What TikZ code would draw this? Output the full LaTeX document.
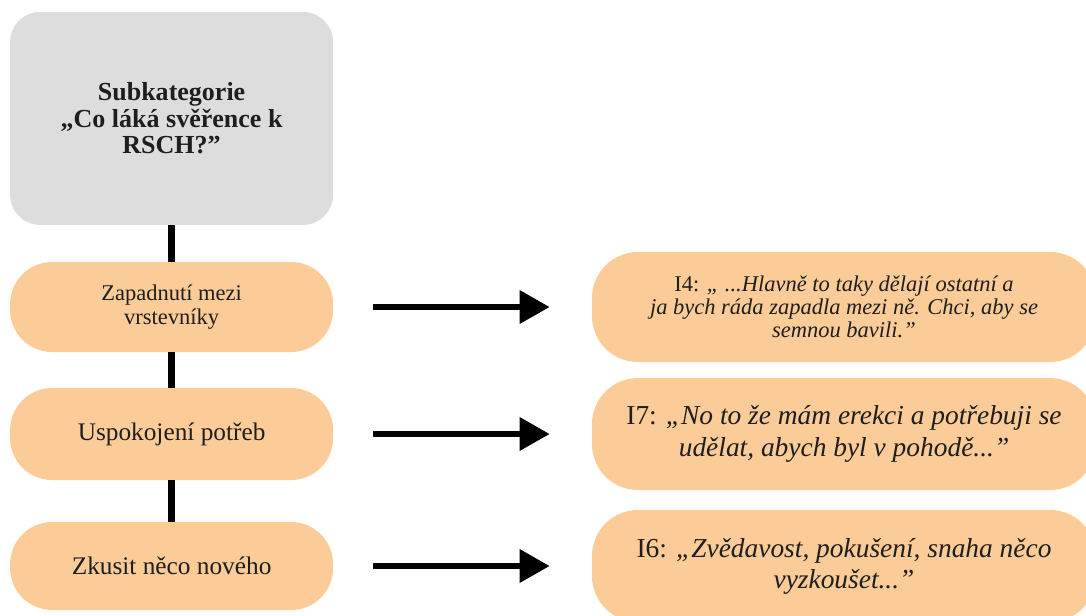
\documentclass[tikz,border=0pt]{standalone}
\usepackage{fontspec}
\setmainfont{Liberation Serif}
\usetikzlibrary{arrows.meta}
\definecolor{boxorange}{RGB}{251,203,152}
\definecolor{boxgray}{RGB}{221,221,221}
\definecolor{txtgray}{RGB}{30,30,30}

\begin{document}
\begin{tikzpicture}[
  catbox/.style={fill=boxgray, rounded corners=0.75cm, minimum width=8.075cm, minimum height=5.325cm, align=center, text=txtgray, font=\fontsize{18.5}{19}\selectfont\bfseries},
  subbox/.style={fill=boxorange, rounded corners=1.05cm, minimum width=8.075cm, align=center, text=txtgray},
  quotebox/.style={fill=boxorange, rounded corners=1.15cm, minimum width=12.6cm, align=center, text=txtgray},
  link/.style={line width=4.5pt},
  pointer/.style={line width=4.5pt, -{Triangle[length=0.75cm,width=0.8cm]}}
]
\clip (0,0) rectangle (27.15,-15.375);
\node[catbox] (cat) at (4.29,-2.96) {Subkategorie\\„Co láká svěřence k\\RSCH?”};
\node[subbox, minimum height=2.25cm, font=\fontsize{16}{17}\selectfont] (peers) at (4.29,-7.675) {Zapadnutí mezi\\vrstevníky};
\node[subbox, minimum height=2.3cm, font=\fontsize{18}{20}\selectfont] (needs) at (4.29,-10.85) {Uspokojení potřeb};
\node[subbox, minimum height=2.2cm, font=\fontsize{18}{20}\selectfont] (new) at (4.29,-14.15) {Zkusit něco nového};
\node[quotebox, minimum height=2.75cm, font=\fontsize{16}{16.5}\selectfont] (qpeers) at (21.1,-7.675) {I4: \textit{„ ...Hlavně to taky dělají ostatní a}\\\textit{ja bych ráda zapadla mezi ně. Chci, aby se}\\\textit{semnou bavili.”}};
\node[quotebox, minimum height=2.8cm, font=\fontsize{19.5}{23}\selectfont] (qneeds) at (21.1,-10.85) {I7: \textit{„No to že mám erekci a potřebuji se}\\\textit{udělat, abych byl v pohodě...”}};
\node[quotebox, minimum height=2.8cm, font=\fontsize{19.5}{22}\selectfont] (qnew) at (21.1,-14.15) {I6: \textit{„Zvědavost, pokušení, snaha něco}\\\textit{vyzkoušet...”}};
\draw[link] (cat.south) -- (peers.north);
\draw[link] (peers.south) -- (needs.north);
\draw[link] (needs.south) -- (new.north);
\draw[pointer] ([xshift=1cm]peers.east) -- ([xshift=-1.05cm]qpeers.west);
\draw[pointer] ([xshift=1cm]needs.east) -- ([xshift=-1.05cm]qneeds.west);
\draw[pointer] ([xshift=1cm]new.east) -- ([xshift=-1.05cm]qnew.west);
\end{tikzpicture}
\end{document}
